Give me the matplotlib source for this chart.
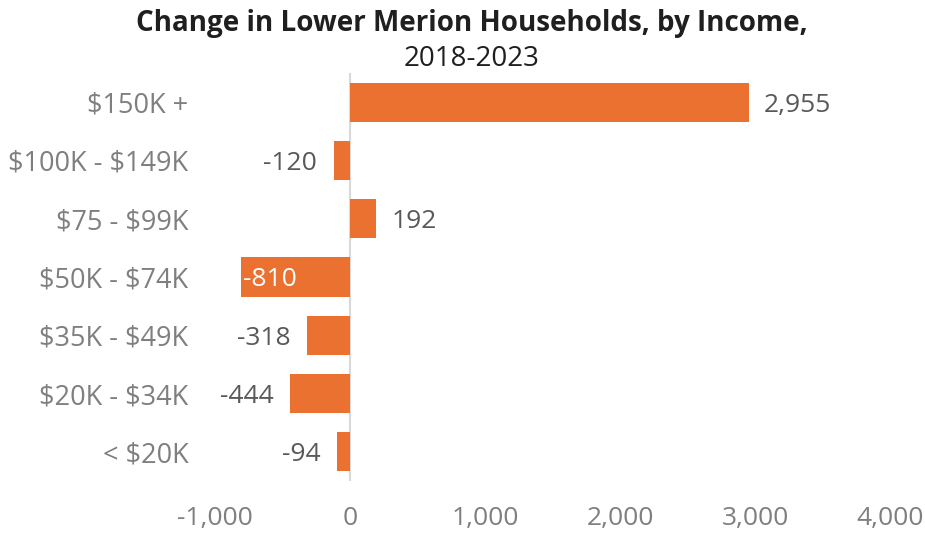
import matplotlib
matplotlib.use("Agg")
import matplotlib.pyplot as plt

categories = ["$150K +", "$100K - $149K", "$75 - $99K", "$50K - $74K",
              "$35K - $49K", "$20K - $34K", "< $20K"]
values = [2955, -120, 192, -810, -318, -444, -94]
value_labels = ["2,955", "-120", "192", "-810", "-318", "-444", "-94"]
xticks = [-1000, 0, 1000, 2000, 3000, 4000]
xtick_labels = ["-1,000", "0", "1,000", "2,000", "3,000", "4,000"]
inside_labels = ["-810"]

plt.rcParams['font.family'] = ['Open Sans', 'DejaVu Sans']
plt.rcParams['text.parse_math'] = False
W, H = 925, 535
fig = plt.figure(figsize=(W / 100, H / 100), dpi=100)
ax = fig.add_axes([215 / W, 1 - 481 / H, (890 - 215) / W, (481 - 73) / H])

bar_color = "#EB7131"
text_color = "#595959"
axis_color = "#7F7F7F"
fs = 19
ypos = list(range(len(categories)))
ax.barh(ypos, values, height=0.67, color=bar_color)
ax.set_ylim(len(categories) - 0.5, -0.5)
ax.set_xlim(-1000, 4000)
ax.set_yticks(ypos)
ax.set_yticklabels(categories, fontsize=19.5, color=axis_color)
ax.set_xticks(xticks)
ax.set_xticklabels(xtick_labels, fontsize=fs, color=axis_color)
ax.tick_params(axis='both', length=0)
ax.tick_params(axis='y', pad=19)
ax.tick_params(axis='x', pad=18)
for s in ax.spines.values():
    s.set_visible(False)
ax.axvline(0, color="#D9D9D9", lw=1.5, zorder=0)

for y, v, lab in zip(ypos, values, value_labels):
    if lab in inside_labels:
        ax.annotate(lab, (v, y), xytext=(2, 0), textcoords="offset points",
                    ha="left", va="center_baseline", fontsize=fs, color="white")
    elif v >= 0:
        ax.annotate(lab, (v, y), xytext=(11, 0), textcoords="offset points",
                    ha="left", va="center_baseline", fontsize=fs, color=text_color)
    else:
        ax.annotate(lab, (v, y), xytext=(-12, 0), textcoords="offset points",
                    ha="right", va="center_baseline", fontsize=fs, color=text_color)

fig.text(472 / W, 1 - 23 / H, "Change in Lower Merion Households, by Income,",
         ha="center", va="center", fontsize=20, fontweight="bold", color="#1F1F1F")
fig.text(472 / W, 1 - 59 / H, "2018-2023", ha="center", va="center",
         fontsize=20, color="#1F1F1F")

fig.savefig("out.png", dpi=100)
